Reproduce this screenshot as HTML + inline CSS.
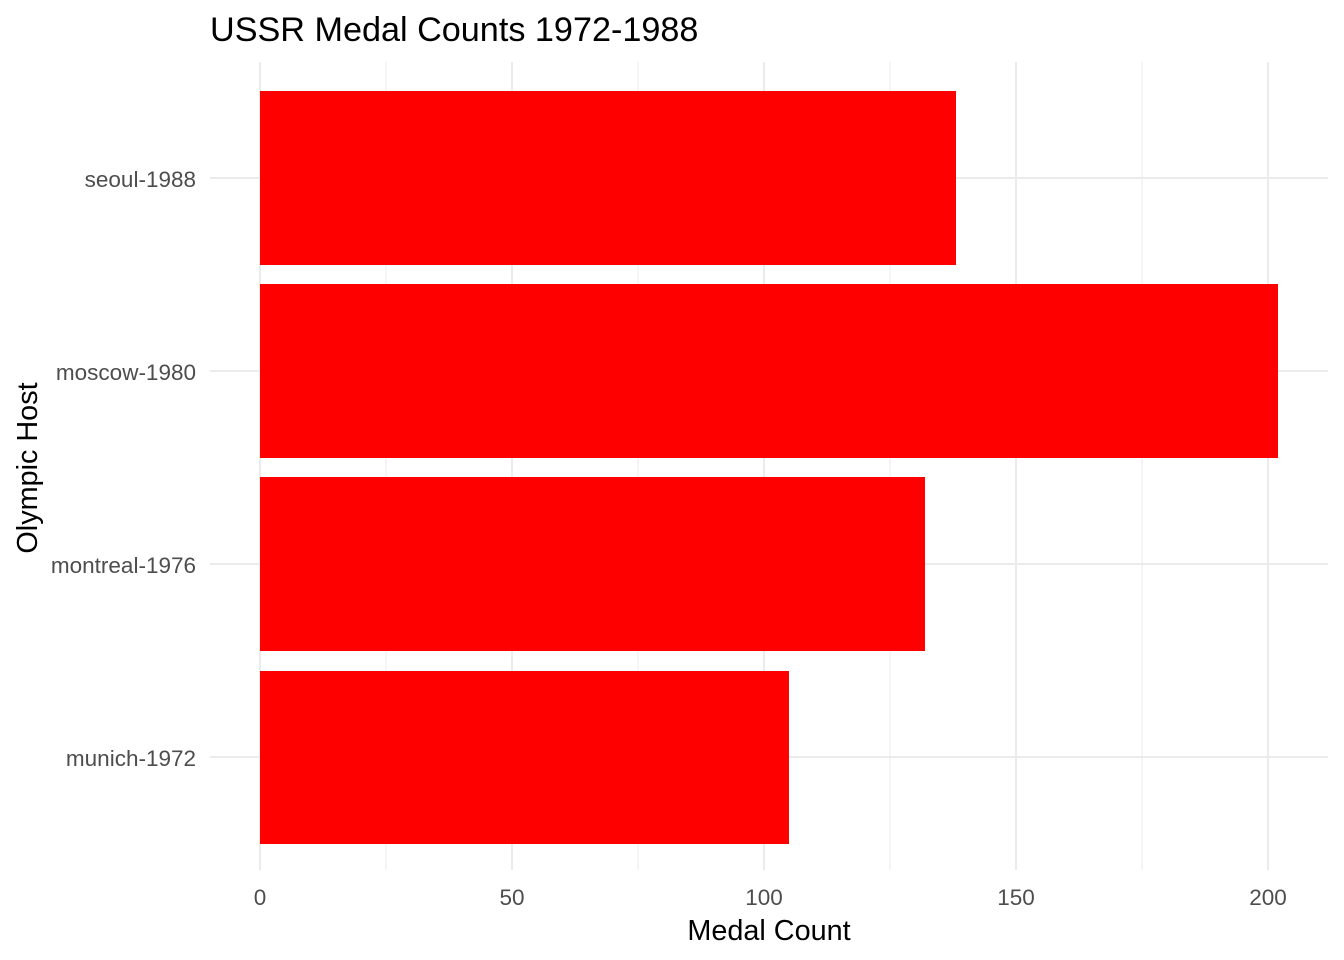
<!DOCTYPE html>
<html><head><style>
html,body{margin:0;padding:0;background:#fff;}
svg{display:block;font-family:"Liberation Sans",Arial,sans-serif;}
</style></head><body>
<svg width="1344" height="960" viewBox="0 0 1344 960" xmlns="http://www.w3.org/2000/svg">
<rect width="1344" height="960" fill="#fff"/>
<g stroke="#ebebeb" stroke-width="1">
<line x1="386" y1="62" x2="386" y2="870"/>
<line x1="638" y1="62" x2="638" y2="870"/>
<line x1="890" y1="62" x2="890" y2="870"/>
<line x1="1142" y1="62" x2="1142" y2="870"/>
</g>
<g stroke="#ebebeb" stroke-width="2">
<line x1="260" y1="62" x2="260" y2="870"/>
<line x1="512" y1="62" x2="512" y2="870"/>
<line x1="764" y1="62" x2="764" y2="870"/>
<line x1="1016" y1="62" x2="1016" y2="870"/>
<line x1="1268" y1="62" x2="1268" y2="870"/>
<line x1="210" y1="178" x2="1328" y2="178"/>
<line x1="210" y1="371" x2="1328" y2="371"/>
<line x1="210" y1="564" x2="1328" y2="564"/>
<line x1="210" y1="757" x2="1328" y2="757"/>
</g>
<g fill="#ff0000">
<rect x="260" y="91" width="696" height="174"/>
<rect x="260" y="284" width="1018" height="174"/>
<rect x="260" y="477" width="665" height="174"/>
<rect x="260" y="671" width="529" height="173"/>
</g>
<g fill="#4d4d4d" font-size="22.5" text-anchor="end">
<text x="196" y="187">seoul-1988</text>
<text x="196" y="380">moscow-1980</text>
<text x="196" y="573">montreal-1976</text>
<text x="196" y="766">munich-1972</text>
</g>
<g fill="#4d4d4d" font-size="22.5" text-anchor="middle">
<text x="260" y="905">0</text>
<text x="512" y="905">50</text>
<text x="764" y="905">100</text>
<text x="1016" y="905">150</text>
<text x="1268" y="905">200</text>
</g>
<text x="769" y="940" font-size="28.8" text-anchor="middle" fill="#000">Medal Count</text>
<text transform="translate(37,468) rotate(-90)" font-size="28.8" text-anchor="middle" fill="#000">Olympic Host</text>
<text x="210" y="41" font-size="34.2" fill="#000">USSR Medal Counts 1972-1988</text>
</svg>
</body></html>
